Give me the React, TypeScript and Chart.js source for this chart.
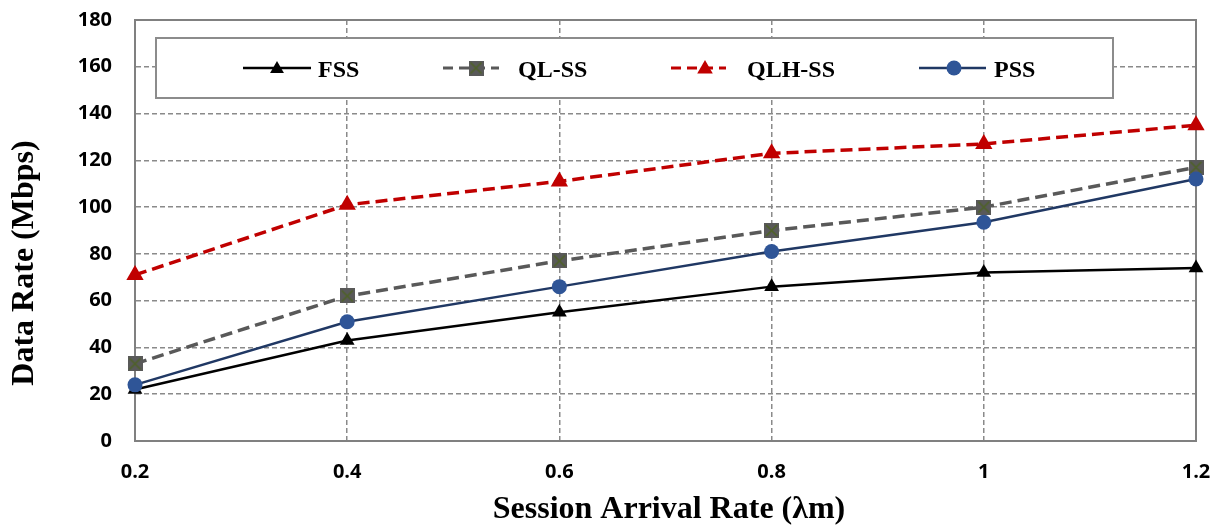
import React, { useEffect, useRef } from 'react';
import { Chart, registerables } from 'chart.js';

Chart.register(...registerables);

const categories = ['0.2', '0.4', '0.6', '0.8', '1', '1.2'];
const fssValues = [22, 43, 55, 66, 72, 74];
const qlssValues = [33, 62, 77, 90, 100, 117];
const qlhssValues = [71, 101, 111, 123, 127, 135];
const pssValues = [24, 51, 66, 81, 93.5, 112];
const seriesNames = ['FSS', 'QL-SS', 'QLH-SS', 'PSS'];
const yMin = 0;
const yMax = 180;
const yStep = 20;
const xTitle = 'Session Arrival Rate (\u03BBm)';
const yTitle = 'Data Rate (Mbps)';

const GRID = '#8a8a8a';
const BORDER = '#808080';

function makeSquareMarker(): HTMLCanvasElement {
  const c = document.createElement('canvas');
  c.width = 15;
  c.height = 15;
  const g = c.getContext('2d')!;
  g.fillStyle = '#595959';
  g.fillRect(0, 0, 15, 15);
  g.strokeStyle = '#4F6228';
  g.lineWidth = 1.6;
  g.beginPath();
  g.moveTo(2, 2);
  g.lineTo(13, 13);
  g.moveTo(13, 2);
  g.lineTo(2, 13);
  g.stroke();
  return c;
}

function drawTriangle(ctx: CanvasRenderingContext2D, x: number, y: number, r: number, color: string) {
  ctx.save();
  ctx.fillStyle = color;
  ctx.beginPath();
  let rad = 0;
  ctx.moveTo(x + Math.sin(rad) * r, y - Math.cos(rad) * r);
  rad += (2 * Math.PI) / 3;
  ctx.lineTo(x + Math.sin(rad) * r, y - Math.cos(rad) * r);
  rad += (2 * Math.PI) / 3;
  ctx.lineTo(x + Math.sin(rad) * r, y - Math.cos(rad) * r);
  ctx.closePath();
  ctx.fill();
  ctx.restore();
}

export default function App() {
  const ref = useRef<HTMLCanvasElement | null>(null);

  useEffect(() => {
    if (!ref.current) return;
    const square = makeSquareMarker();

    const framePlugin = {
      id: 'frame',
      beforeDatasetsDraw(chart: any) {
        const { ctx, chartArea } = chart;
        ctx.save();
        ctx.strokeStyle = BORDER;
        ctx.lineWidth = 2;
        ctx.setLineDash([]);
        ctx.strokeRect(chartArea.left, chartArea.top, chartArea.right - chartArea.left, chartArea.bottom - chartArea.top);
        ctx.restore();
      },
      afterDraw(chart: any) {
        const { ctx } = chart;
        ctx.save();
        // legend box
        ctx.fillStyle = '#ffffff';
        ctx.fillRect(156, 38, 957, 60);
        ctx.strokeStyle = '#8c8c8c';
        ctx.lineWidth = 2;
        ctx.setLineDash([]);
        ctx.strokeRect(156, 38, 957, 60);

        const ly = 68;
        const items = [
          { x1: 243, x2: 311, mx: 277, tx: 318, color: '#000000', width: 2.5, dash: [] as number[], marker: 'tri', r: 8, mcolor: '#000000' },
          { x1: 443, x2: 499, mx: 476, tx: 518, color: '#595959', width: 3, dash: [10, 6], marker: 'sq', r: 0, mcolor: '#595959' },
          { x1: 671, x2: 726, mx: 705, tx: 747, color: '#C00000', width: 3, dash: [10, 6], marker: 'tri', r: 9, mcolor: '#C00000' },
          { x1: 919, x2: 986, mx: 954, tx: 994, color: '#203864', width: 2.5, dash: [] as number[], marker: 'circ', r: 0, mcolor: '#2F5597' },
        ];
        items.forEach((it, i) => {
          ctx.strokeStyle = it.color;
          ctx.lineWidth = it.width;
          ctx.setLineDash(it.dash);
          ctx.beginPath();
          ctx.moveTo(it.x1, ly);
          ctx.lineTo(it.x2, ly);
          ctx.stroke();
          ctx.setLineDash([]);
          if (it.marker === 'tri') drawTriangle(ctx, it.mx, ly + 1, it.r, it.mcolor);
          else if (it.marker === 'sq') ctx.drawImage(square, it.mx - 7.5, ly - 7.5);
          else {
            ctx.fillStyle = it.mcolor;
            ctx.beginPath();
            ctx.arc(it.mx, ly, 7.5, 0, Math.PI * 2);
            ctx.fill();
          }
          ctx.fillStyle = '#000000';
          ctx.font = 'bold 24px "Liberation Serif"';
          ctx.textAlign = 'left';
          ctx.textBaseline = 'alphabetic';
          ctx.fillText(seriesNames[i], it.tx, 77);
        });

        // axis titles
        ctx.fillStyle = '#000000';
        ctx.font = 'bold 32px "Liberation Serif"';
        ctx.textAlign = 'center';
        ctx.textBaseline = 'alphabetic';
        ctx.fillText(xTitle, 669, 518);
        ctx.translate(33, 263);
        ctx.rotate(-Math.PI / 2);
        ctx.fillText(yTitle, 0, 0);
        ctx.restore();
      },
    };

    const chart = new Chart(ref.current, {
      type: 'line',
      data: {
        labels: categories,
        datasets: [
          {
            label: seriesNames[0],
            data: fssValues,
            borderColor: '#000000',
            backgroundColor: '#000000',
            borderWidth: 2.5,
            pointStyle: 'triangle',
            pointRadius: 8.5,
            pointBackgroundColor: '#000000',
            pointBorderWidth: 0,
            tension: 0,
            clip: false as any,
            order: 4,
          },
          {
            label: seriesNames[1],
            data: qlssValues,
            borderColor: '#595959',
            backgroundColor: '#595959',
            borderWidth: 3.5,
            borderDash: [12, 6],
            pointStyle: square as any,
            pointRadius: 8,
            pointBorderWidth: 0,
            tension: 0,
            clip: false as any,
            order: 3,
          },
          {
            label: seriesNames[2],
            data: qlhssValues,
            borderColor: '#C00000',
            backgroundColor: '#C00000',
            borderWidth: 3.5,
            borderDash: [12, 6],
            pointStyle: 'triangle',
            pointRadius: 10,
            pointBackgroundColor: '#C00000',
            pointBorderWidth: 0,
            tension: 0,
            clip: false as any,
            order: 2,
          },
          {
            label: seriesNames[3],
            data: pssValues,
            borderColor: '#203864',
            backgroundColor: '#2F5597',
            borderWidth: 2.5,
            pointStyle: 'circle',
            pointRadius: 7.5,
            pointBackgroundColor: '#2F5597',
            pointBorderWidth: 0,
            tension: 0,
            clip: false as any,
            order: 1,
          },
        ],
      },
      options: {
        responsive: false,
        animation: false,
        events: [],
        layout: { padding: { left: 0, right: 25, top: 20, bottom: 0 } },
        plugins: { legend: { display: false }, tooltip: { enabled: false }, title: { display: false } },
        scales: {
          x: {
            type: 'category',
            offset: false,
            grid: { color: GRID, lineWidth: 1.5, drawTicks: false } as any,
            border: { display: true, color: BORDER, width: 2, dash: [5, 3] } as any,
            ticks: {
              color: '#000000',
              font: { family: '"Open Sans"', size: 20, weight: 'bold' },
              padding: 19,
              maxRotation: 0,
              autoSkip: false,
            },
            afterFit(scale: any) {
              scale.height = 84;
              scale.paddingLeft = 0;
              scale.paddingRight = 0;
            },
          },
          y: {
            min: yMin,
            max: yMax,
            grid: { color: GRID, lineWidth: 1.5, drawTicks: false } as any,
            border: { display: true, color: BORDER, width: 2, dash: [5, 3] } as any,
            ticks: {
              stepSize: yStep,
              color: '#000000',
              font: { family: '"Open Sans"', size: 20, weight: 'bold' },
              padding: 23,
            },
            afterFit(scale: any) {
              scale.width = 135;
              scale.paddingTop = 0;
              scale.paddingBottom = 0;
            },
          },
        },
      },
      plugins: [framePlugin],
    });

    return () => chart.destroy();
  }, []);

  return (
    <div style={{ position: 'absolute', left: 0, top: 0, width: 1221, height: 525 }}>
      <canvas ref={ref} width={1221} height={525} style={{ display: 'block' }} />
    </div>
  );
}
